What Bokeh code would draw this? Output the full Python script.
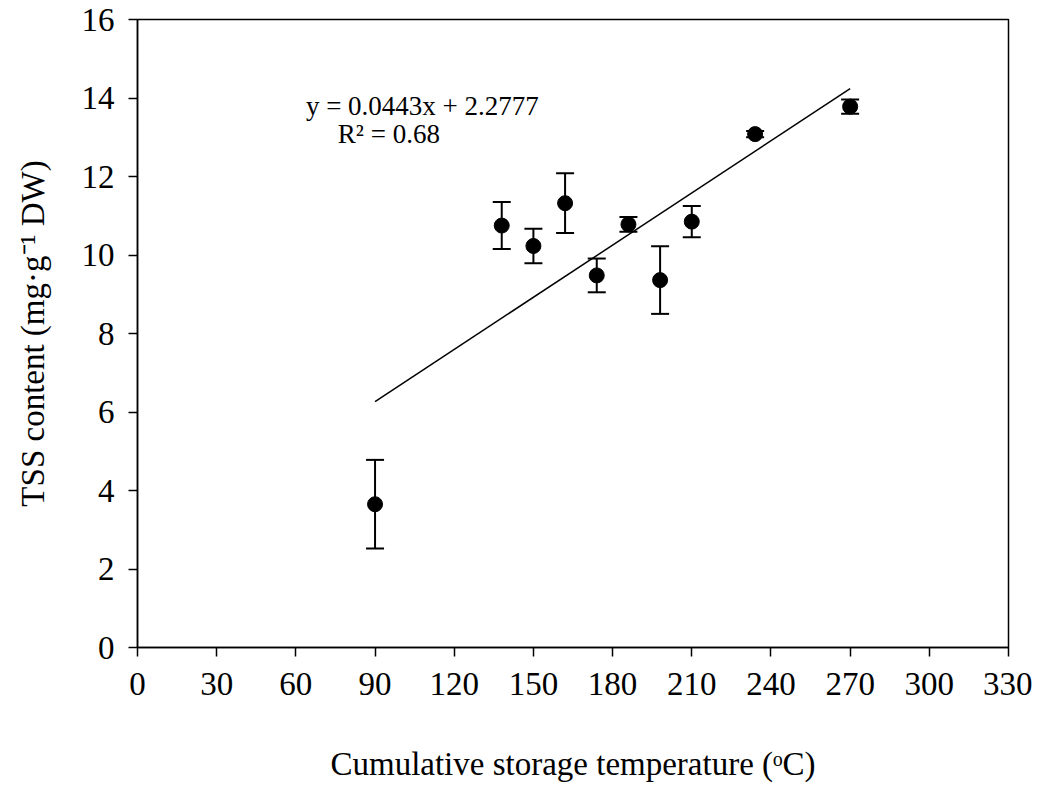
from bokeh.plotting import figure
from bokeh.models import Whisker, TeeHead, ColumnDataSource, Label, FixedTicker
from bokeh.embed import file_html
from bokeh.resources import INLINE

# data
temps = [90, 138, 150, 162, 174, 186, 198, 210, 234, 270]
tss = [3.65, 10.75, 10.23, 11.32, 9.48, 10.78, 9.36, 10.85, 13.08, 13.78]
err = [1.13, 0.60, 0.44, 0.76, 0.43, 0.19, 0.86, 0.40, 0.08, 0.18]
slope = 0.0443
intercept = 2.2777
r2 = 0.68
x_ticks = list(range(0, 331, 30))
y_ticks = list(range(0, 17, 2))

FONT = "Liberation Serif"

src = ColumnDataSource(dict(
    x=temps, y=tss,
    lo=[m - e for m, e in zip(tss, err)],
    hi=[m + e for m, e in zip(tss, err)],
))

p = figure(width=1032, height=784, x_range=(0, 330), y_range=(0, 16),
           output_backend="svg", toolbar_location=None,
           min_border_left=137, min_border_right=24,
           min_border_top=19, min_border_bottom=135)

p.xgrid.visible = False
p.ygrid.visible = False
p.outline_line_color = "black"
p.outline_line_width = 1.5
p.outline_line_alpha = 1.0

for ax in (p.xaxis[0], p.yaxis[0]):
    ax.axis_line_color = "black"
    ax.axis_line_width = 1.5
    ax.major_tick_line_color = "black"
    ax.major_tick_line_width = 1.5
    ax.major_tick_out = 9
    ax.major_tick_in = 0
    ax.minor_tick_line_color = None
    ax.major_label_text_font = FONT
    ax.major_label_text_font_size = "33px"
    ax.major_label_text_color = "black"
    ax.axis_label_text_font = FONT
    ax.axis_label_text_font_size = "33px"
    ax.axis_label_text_font_style = "normal"
    ax.axis_label_text_color = "black"

p.xaxis.ticker = FixedTicker(ticks=x_ticks)
p.yaxis.ticker = FixedTicker(ticks=y_ticks)
p.xaxis.major_label_standoff = 16
p.yaxis.major_label_standoff = 14
p.xaxis.axis_label = "Cumulative storage temperature (\u1d52C)"
p.yaxis.axis_label = "TSS content (mg\u00b7g\u207b\u00b9 DW)"
p.xaxis.axis_label_standoff = 48
p.yaxis.axis_label_standoff = 28

# trend line
xl = [min(temps), max(temps)]
yl = [slope * v + intercept for v in xl]
p.line(xl, yl, line_color="black", line_width=1.5)

# error bars
wh = Whisker(source=src, base="x", lower="lo", upper="hi",
             line_color="black", line_width=2,
             upper_head=TeeHead(size=18, line_color="black", line_width=2),
             lower_head=TeeHead(size=18, line_color="black", line_width=2))
p.add_layout(wh)

p.scatter("x", "y", source=src, size=15, fill_color="black", line_color="black")

p.add_layout(Label(x=63.8, y=13.8, text=f"y = {slope}x + {intercept}",
                   text_font=FONT, text_font_size="27px", text_color="black",
                   text_baseline="middle", text_align="left"))
p.add_layout(Label(x=75.9, y=13.09, text=f"R\u00b2 = {r2}",
                   text_font=FONT, text_font_size="27px", text_color="black",
                   text_baseline="middle", text_align="left"))

open("out.html", "w").write(file_html(p, INLINE))
